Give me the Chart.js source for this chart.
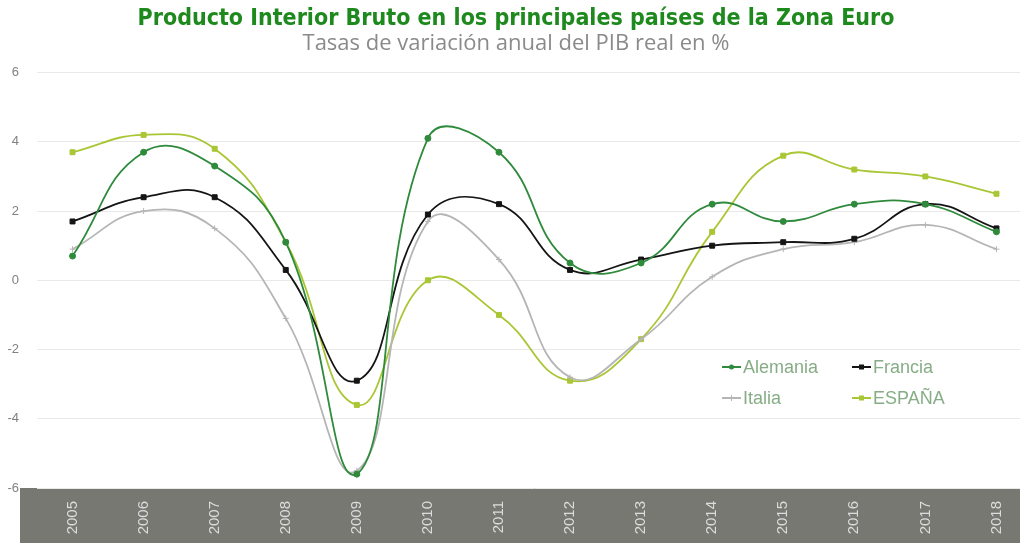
<!DOCTYPE html>
<html><head><meta charset="utf-8">
<script src="https://cdn.jsdelivr.net/npm/chart.js@4.4.1/dist/chart.umd.min.js"></script>
<style>
html,body{margin:0;padding:0;background:#fff;overflow:hidden}
#wrap{width:1020px;height:545px;overflow:hidden;position:relative}
canvas{display:block}
</style></head><body>
<div id="wrap"><canvas id="c" width="1040" height="545"></canvas></div>
<script>
const years = ['2005','2006','2007','2008','2009','2010','2011','2012','2013','2014','2015','2016','2017','2018'];
const alemania = [0.7, 3.7, 3.3, 1.1, -5.6, 4.1, 3.7, 0.5, 0.5, 2.2, 1.7, 2.2, 2.2, 1.4];
const francia  = [1.7, 2.4, 2.4, 0.3, -2.9, 1.9, 2.2, 0.3, 0.6, 1.0, 1.1, 1.2, 2.2, 1.5];
const italia   = [0.9, 2.0, 1.5, -1.1, -5.5, 1.7, 0.6, -2.8, -1.7, 0.1, 0.9, 1.1, 1.6, 0.9];
const espana   = [3.7, 4.2, 3.8, 1.1, -3.6, 0.0, -1.0, -2.9, -1.7, 1.4, 3.6, 3.2, 3.0, 2.5];
const yTicks = [-6, -4, -2, 0, 2, 4, 6];

const C_ALE = '#2f8a3c', C_FRA = '#151515', C_ITA = '#b5b5b5', C_ESP = '#a9c634';

const bandPlugin = {
  id: 'band',
  beforeDraw(chart) {
    const {ctx, chartArea} = chart;
    ctx.save();
    ctx.fillStyle = '#787872';
    ctx.fillRect(20, chartArea.bottom, chart.width - 20, 55);
    ctx.restore();
  }
};

const legendPlugin = {
  id: 'customLegend',
  afterDraw(chart) {
    const {ctx} = chart;
    const pos = [[722, 367], [852, 367], [722, 398], [852, 398]];
    ctx.save();
    ctx.font = '18px "Liberation Sans", Arial, sans-serif';
    ctx.textBaseline = 'middle';
    chart.data.datasets.forEach((ds, i) => {
      const [x, y] = pos[i];
      ctx.strokeStyle = ds.borderColor;
      ctx.lineWidth = 2;
      ctx.beginPath(); ctx.moveTo(x, y); ctx.lineTo(x + 19, y); ctx.stroke();
      ctx.fillStyle = ds.borderColor;
      const r = 2.5;
      if (ds.pointStyle === 'circle') { ctx.beginPath(); ctx.arc(x + 9.5, y, r, 0, Math.PI * 2); ctx.fill(); }
      else if (ds.pointStyle === 'rect') { ctx.fillRect(x + 9.5 - r, y - r, 2 * r, 2 * r); }
      else { ctx.lineWidth = 1; ctx.beginPath(); ctx.moveTo(x + 9.5, y - 3); ctx.lineTo(x + 9.5, y + 3); ctx.stroke(); }
      ctx.fillStyle = '#86ad86';
      ctx.fillText(ds.label, x + 21, y + 1);
    });
    ctx.restore();
  }
};

new Chart(document.getElementById('c'), {
  type: 'line',
  data: {
    labels: years,
    datasets: [
      {label: 'Alemania', data: alemania, borderColor: C_ALE, backgroundColor: C_ALE, pointStyle: 'circle', pointRadius: 3},
      {label: 'Francia', data: francia, borderColor: C_FRA, backgroundColor: C_FRA, pointStyle: 'rect', pointRadius: 3.5},
      {label: 'Italia', data: italia, borderColor: C_ITA, backgroundColor: C_ITA, pointStyle: 'cross', pointRadius: 3, pointBorderWidth: 1},
      {label: 'ESPAÑA', data: espana, borderColor: C_ESP, backgroundColor: C_ESP, pointStyle: 'rect', pointRadius: 3.5}
    ]
  },
  options: {
    responsive: false,
    animation: false,
    layout: {padding: {left: 0, right: 8, top: 0, bottom: 0}},
    elements: {line: {tension: 0.45, borderWidth: 1.8}, point: {borderWidth: 1}},
    plugins: {
      legend: {display: false},
      tooltip: {enabled: false},
      title: {
        display: true,
        text: 'Producto Interior Bruto en los principales países de la Zona Euro',
        color: '#1e8a1e',
        font: {family: '"DejaVu Sans Condensed", sans-serif', size: 23, weight: 'bold', lineHeight: 1.2},
        padding: {top: 5, bottom: 0}
      },
      subtitle: {
        display: true,
        text: 'Tasas de variación anual del PIB real en %',
        color: '#8a8a8a',
        font: {family: '"Open Sans", sans-serif', size: 22, weight: 'normal', lineHeight: 1.0},
        padding: {top: 0, bottom: 18}
      }
    },
    scales: {
      x: {
        offset: true,
        grid: {display: false, offset: true},
        border: {display: false},
        ticks: {color: '#dcdcdc', minRotation: 90, maxRotation: 90, padding: 5,
                font: {family: '"Liberation Sans", Arial, sans-serif', size: 15}},
        afterFit(s) { s.height = 57; }
      },
      y: {
        min: -6, max: 6,
        afterBuildTicks(s) { s.ticks = yTicks.map(v => ({value: v})); },
        grid: {color: '#e8e8e8', drawTicks: false},
        border: {display: false},
        ticks: {color: '#808080', padding: 18, font: {family: '"Liberation Sans", Arial, sans-serif', size: 13}},
        afterFit(s) { s.width = 37; }
      }
    }
  },
  plugins: [bandPlugin, legendPlugin]
});
</script>
</body></html>
